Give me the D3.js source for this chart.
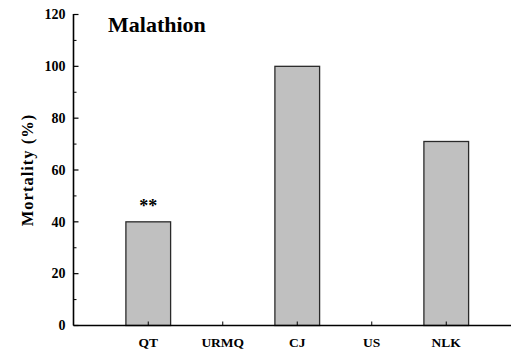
<!DOCTYPE html>
<html>
<head>
<meta charset="utf-8">
<script src="https://cdn.jsdelivr.net/npm/d3@7"></script>
<style>
  html, body { margin: 0; padding: 0; background: #fff; }
  svg { display: block; }
</style>
</head>
<body>
<svg id="chart" width="511" height="351"></svg>
<script>
// Mortality of each population after malathion exposure
const categories = ["QT", "URMQ", "CJ", "US", "NLK"];
const mortality = [40, 0, 100, 0, 71];
const significance = ["**", "", "", "", ""];
const yTicks = [0, 20, 40, 60, 80, 100, 120];
const yMinorTicks = [10, 30, 50, 70, 90, 110];

const FONT = "'Liberation Serif', 'Times New Roman', serif";

const svg = d3.select("#chart")
  .attr("font-family", FONT)
  .attr("font-weight", "bold");
const W = 511;
const plotLeft = 73.5, plotBottom = 325.5, plotTop = 14.5;

const x = d3.scaleBand()
  .domain(categories)
  .range([111, 483.5])
  .paddingInner(0.4)
  .paddingOuter(0.2);

const y = d3.scaleLinear().domain([0, 120]).range([plotBottom, plotTop]);

// bars
svg.append("g").selectAll("rect")
  .data(categories.map((c, i) => ({ c, v: mortality[i] })).filter(d => d.v > 0))
  .join("rect")
  .attr("x", d => x(d.c))
  .attr("y", d => y(d.v))
  .attr("width", x.bandwidth())
  .attr("height", d => y(0) - y(d.v))
  .attr("fill", "#c0c0c0")
  .attr("stroke", "#2a2a2a")
  .attr("stroke-width", 1.3);

// significance marks
svg.append("g").selectAll("text")
  .data(categories.map((c, i) => ({ c, v: mortality[i], s: significance[i] })).filter(d => d.s))
  .join("text")
  .attr("x", d => x(d.c) + x.bandwidth() / 2)
  .attr("y", d => y(d.v) - 10)
  .attr("text-anchor", "middle")
  .attr("font-size", 18)
  .text(d => d.s);

// y axis
const yAxis = svg.append("g").attr("transform", `translate(${plotLeft},0)`);
yAxis.append("line")
  .attr("x1", 0).attr("x2", 0)
  .attr("y1", y(120) - 0.5).attr("y2", y(0))
  .attr("stroke", "#000").attr("stroke-width", 1.6);
yAxis.selectAll(".major")
  .data(yTicks).join("line")
  .attr("class", "major")
  .attr("x1", 0).attr("x2", 5)
  .attr("y1", d => y(d)).attr("y2", d => y(d))
  .attr("stroke", "#000").attr("stroke-width", 1.2);
yAxis.selectAll(".minor")
  .data(yMinorTicks).join("line")
  .attr("class", "minor")
  .attr("x1", 0).attr("x2", 3)
  .attr("y1", d => y(d)).attr("y2", d => y(d))
  .attr("stroke", "#000").attr("stroke-width", 1);
yAxis.selectAll("text")
  .data(yTicks).join("text")
  .attr("x", -8)
  .attr("y", d => y(d))
  .attr("dy", "0.34em")
  .attr("text-anchor", "end")
  .attr("font-size", 14)
  .text(d => d);

// x axis
const xAxis = svg.append("g");
xAxis.append("line")
  .attr("x1", plotLeft).attr("x2", W)
  .attr("y1", y(0)).attr("y2", y(0))
  .attr("stroke", "#000").attr("stroke-width", 1.6);
xAxis.selectAll(".tick")
  .data(categories).join("line")
  .attr("class", "tick")
  .attr("x1", d => x(d) + x.bandwidth() / 2).attr("x2", d => x(d) + x.bandwidth() / 2)
  .attr("y1", y(0)).attr("y2", y(0) - 4)
  .attr("stroke", "#000").attr("stroke-width", 1);
xAxis.selectAll("text")
  .data(categories).join("text")
  .attr("x", d => x(d) + x.bandwidth() / 2)
  .attr("y", 347)
  .attr("text-anchor", "middle")
  .attr("font-size", 13.5)
  .text(d => d);

// axis title
svg.append("text")
  .attr("transform", "translate(33,170) rotate(-90)")
  .attr("text-anchor", "middle")
  .attr("font-size", 16.5)
  .attr("letter-spacing", 1)
  .text("Mortality (%)");

// chart title
svg.append("text")
  .attr("x", 108)
  .attr("y", 32)
  .attr("font-size", 22)
  .text("Malathion");
</script>
</body>
</html>
